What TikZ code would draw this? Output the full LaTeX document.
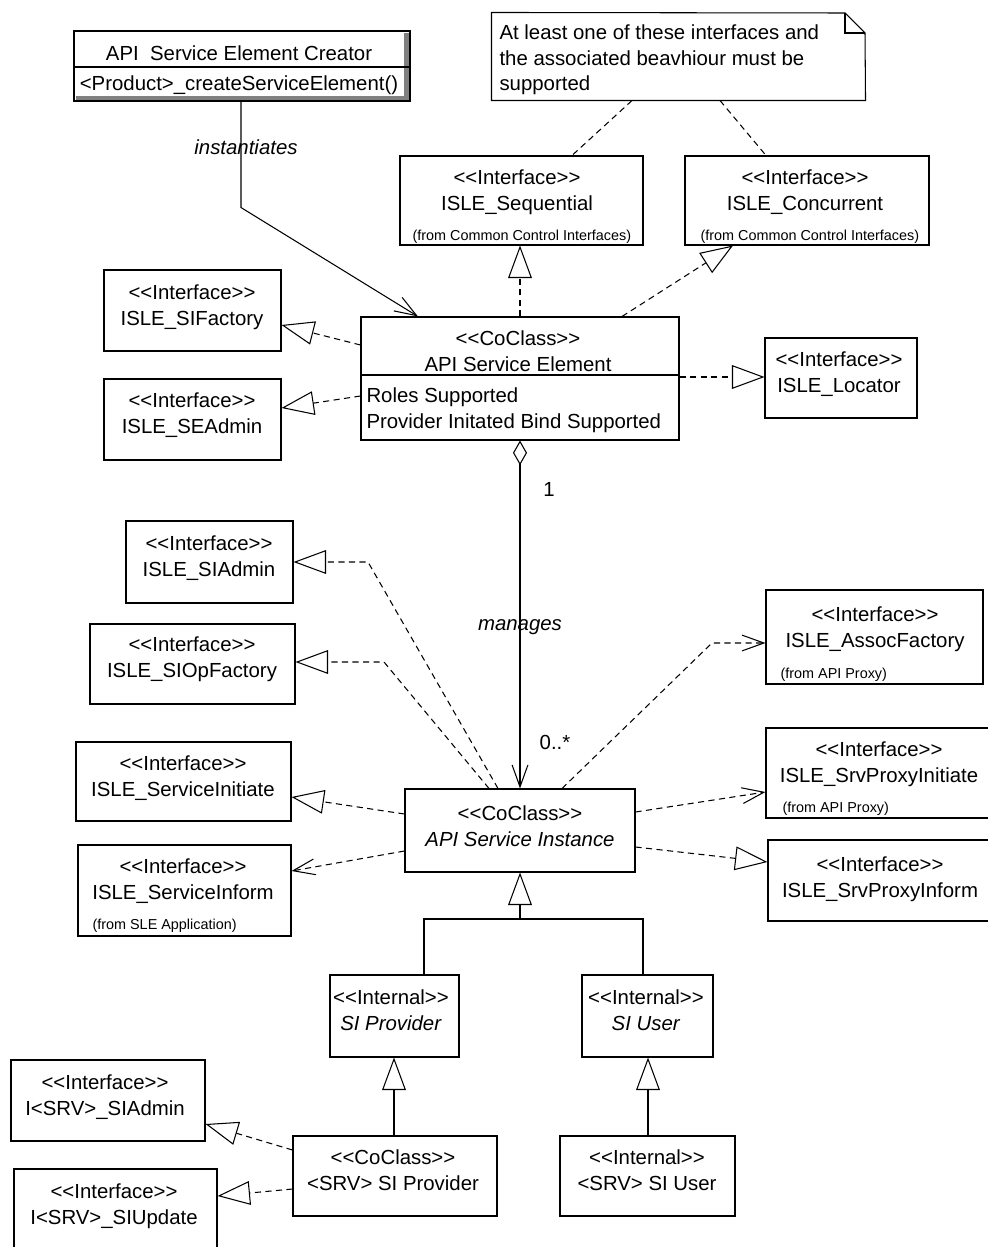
\documentclass[tikz,border=0pt]{standalone}
\usepackage{fontspec}
\setmainfont{Liberation Sans}
\usetikzlibrary{arrows.meta, calc, fit, positioning}

% keeps << and >> from turning into guillemets
\newcommand{\stereo}[1]{<\kern0pt<#1>\kern0pt>}

\tikzset{
  cls/.style={draw, inner sep=0pt},
  txt/.style={font=\fontsize{11.6}{14.7}\selectfont, align=center, inner sep=0pt, anchor=north},
  fromtxt/.style={font=\fontsize{8.2}{10}\selectfont, inner sep=0pt, anchor=base west},
  lbl/.style={font=\fontsize{11.6}{14.7}\selectfont, inner sep=0pt},
  dsh/.style={dash pattern=on 3.5pt off 2.5pt},
  real/.style={dsh, -{Triangle[open, length=18.5pt, width=13.5pt]}},
  gen/.style={-{Triangle[open, length=18.5pt, width=13.5pt]}},
  dep/.style={dsh, -{Straight Barb[length=12.5pt, width=9pt]}},
}

\begin{document}
\begin{tikzpicture}[x=0.02cm, y=-0.02cm, line width=0.6pt]
	\useasboundingbox (0,0) rectangle (987,1247);

	% creator with its shadow
	\fill[gray] (404,33) rectangle (410,101);
	\fill[gray] (76,96) rectangle (410,101);
	\node[cls, fit={(74,31) (410,101)}] (crt) {};
	\draw (crt.west |- 0,67) -- (crt.east |- 0,67);
	\node[txt] (crt-t) at (239,45) {API\ \ Service Element Creator};
	\node[txt] (crt-op) at (239,75) {<Product>\_createServiceElement()};

	% note
	\node[fit={(492,13) (865,100)}, inner sep=0pt] (note) {};
	\draw (note.south west) -- (note.north west) -- (845,13) -- (865,33) -- (note.south east) -- cycle;
	\draw (845,13) -- (845,33) -- (865,33);
	\node[txt, anchor=north west, align=left] (note-t) at (499,24) {At least one of these interfaces and\\the associated beavhiour must be\\supported};

	\node[cls, fit={(400,156) (643,245)}] (seq) {};
	\node[txt] (seq-t) at (517,169) {\stereo{Interface}\\ISLE\_Sequential};
	\node[fromtxt] (seq-f) at (412,240) {(from Common Control Interfaces)};
	\node[cls, fit={(685,156) (929,245)}] (conc) {};
	\node[txt] (conc-t) at (805,169) {\stereo{Interface}\\ISLE\_Concurrent};
	\node[fromtxt] (conc-f) at (700,240) {(from Common Control Interfaces)};

	\draw[dsh] (note.south -| 632,0) -- (seq.north -| 572,0);
	\draw[dsh] (note.south -| 720,0) -- (conc.north -| 766,0);

	% service element
	\node[cls, fit={(361,317) (679,440)}] (elem) {};
	\draw (elem.west |- 0,375) -- (elem.east |- 0,375);
	\node[txt] (elem-t) at (518,330) {\stereo{CoClass}\\API Service Element};
	\node[txt, anchor=north west, align=left] (elem-a) at (366,387) {Roles Supported\\Provider Initated Bind Supported};

	\node[cls, fit={(104,270) (281,351)}] (sifac) {};
	\node[txt] (sifac-t) at (192,284) {\stereo{Interface}\\ISLE\_SIFactory};
	\node[cls, fit={(104,379) (281,460)}] (seadm) {};
	\node[txt] (seadm-t) at (192,392) {\stereo{Interface}\\ISLE\_SEAdmin};
	\node[cls, fit={(765,338) (917,418)}] (loc) {};
	\node[txt] (loc-t) at (839,351) {\stereo{Interface}\\ISLE\_Locator};

	\draw[real] (elem.north -| 520,0) -- (seq.south -| 520,0);
	\draw[real] (elem.north -| 622,0) -- (conc.south -| 733,0);
	\draw[real] (elem.west |- 0,345) -- (sifac.east |- 0,325);
	\draw[real] (elem.west |- 0,396) -- (seadm.east |- 0,408);
	\draw[real] (elem.east |- 0,377) -- (loc.west |- 0,377);
	\draw[-{Straight Barb[length=12.5pt, width=9pt]}] (crt.south -| 241,0) -- ++(0,106) -- (elem.north -| 418,0);
	\node[lbl, font=\fontsize{11.6}{14.7}\selectfont\itshape] (instlbl) at (246,147) {instantiates};

	% service instance
	\node[cls, fit={(405,789) (635,872)}] (inst) {};
	\node[txt] (inst-t) at (520,805) {\stereo{CoClass}\\\textit{API Service Instance}};

	\draw[{Diamond[open, length=14pt, width=8pt]}-{Straight Barb[length=12.5pt, width=9pt]}] (elem.south -| 520,0) -- (inst.north -| 520,0);
	\node[lbl] (one) at (549,489) {1};
	\node[lbl, font=\fontsize{11.6}{14.7}\selectfont\itshape] (manages) at (520,627) {manages};
	\node[lbl] (many) at (555,742) {0..*};

	\node[cls, fit={(126,521) (293,603)}] (siadm) {};
	\node[txt] (siadm-t) at (209,535) {\stereo{Interface}\\ISLE\_SIAdmin};
	\node[cls, fit={(90,624) (295,704)}] (siop) {};
	\node[txt] (siop-t) at (192,636) {\stereo{Interface}\\ISLE\_SIOpFactory};
	\node[cls, fit={(76,742) (291,821)}] (sinit) {};
	\node[txt] (sinit-t) at (183,755) {\stereo{Interface}\\ISLE\_ServiceInitiate};
	\node[cls, fit={(78,845) (291,936)}] (sinf) {};
	\node[txt] (sinf-t) at (183,858) {\stereo{Interface}\\ISLE\_ServiceInform};
	\node[fromtxt] (sinf-f) at (92,929) {(from SLE Application)};

	\node[cls, fit={(766,590) (983,684)}] (assoc) {};
	\node[txt] (assoc-t) at (875,606) {\stereo{Interface}\\ISLE\_AssocFactory};
	\node[fromtxt] (assoc-f) at (780,678) {(from API Proxy)};
	\node[cls, fit={(766,728) (992,818)}] (spi) {};
	\node[txt] (spi-t) at (879,741) {\stereo{Interface}\\ISLE\_SrvProxyInitiate};
	\node[fromtxt] (spi-f) at (782,812) {(from API Proxy)};
	\node[cls, fit={(768,840) (992,921)}] (spinf) {};
	\node[txt] (spinf-t) at (880,856) {\stereo{Interface}\\ISLE\_SrvProxyInform};

	\draw[real] (inst.north -| 498,0) -- (368,562) -- (siadm.east |- 0,562);
	\draw[real] (inst.north -| 489,0) -- (384,662) -- (siop.east |- 0,662);
	\draw[real] (inst.west |- 0,814) -- (sinit.east |- 0,797);
	\draw[dep] (inst.west |- 0,851) -- (sinf.east |- 0,871);
	\draw[dep] (inst.north -| 562,0) -- (712,643) -- (assoc.west |- 0,643);
	\draw[dep] (inst.east |- 0,812) -- (spi.west |- 0,792);
	\draw[real] (inst.east |- 0,847) -- (spinf.west |- 0,862);

	% internals
	\node[cls, fit={(330,975) (459,1057)}] (sip) {};
	\node[txt] (sip-t) at (391,989) {\stereo{Internal}\\\textit{SI Provider}};
	\node[cls, fit={(582,975) (713,1057)}] (usr) {};
	\node[txt] (usr-t) at (646,989) {\stereo{Internal}\\\textit{SI User}};
	\coordinate (split) at (520,919);
	\draw[gen] (split) -- (inst.south -| 520,0);
	\draw (sip.north -| 424,0) |- (split) -| (usr.north -| 643,0);

	\node[cls, fit={(293,1136) (497,1216)}] (srvp) {};
	\node[txt] (srvp-t) at (393,1149) {\stereo{CoClass}\\<SRV> SI Provider};
	\node[cls, fit={(560,1136) (735,1216)}] (srvu) {};
	\node[txt] (srvu-t) at (647,1149) {\stereo{Internal}\\<SRV> SI User};
	\draw[gen] (srvp.north -| 394,0) -- (sip.south -| 394,0);
	\draw[gen] (srvu.north -| 648,0) -- (usr.south -| 648,0);

	\node[cls, fit={(11,1060) (205,1141)}] (isadm) {};
	\node[txt] (isadm-t) at (105,1074) {\stereo{Interface}\\I<SRV>\_SIAdmin};
	\node[cls, fit={(14,1169) (217,1260)}] (isupd) {};
	\node[txt] (isupd-t) at (114,1183) {\stereo{Interface}\\I<SRV>\_SIUpdate};
	\draw[real] (srvp.west |- 0,1150) -- (isadm.east |- 0,1124);
	\draw[real] (srvp.west |- 0,1189) -- (isupd.east |- 0,1196);
\end{tikzpicture}
\end{document}
